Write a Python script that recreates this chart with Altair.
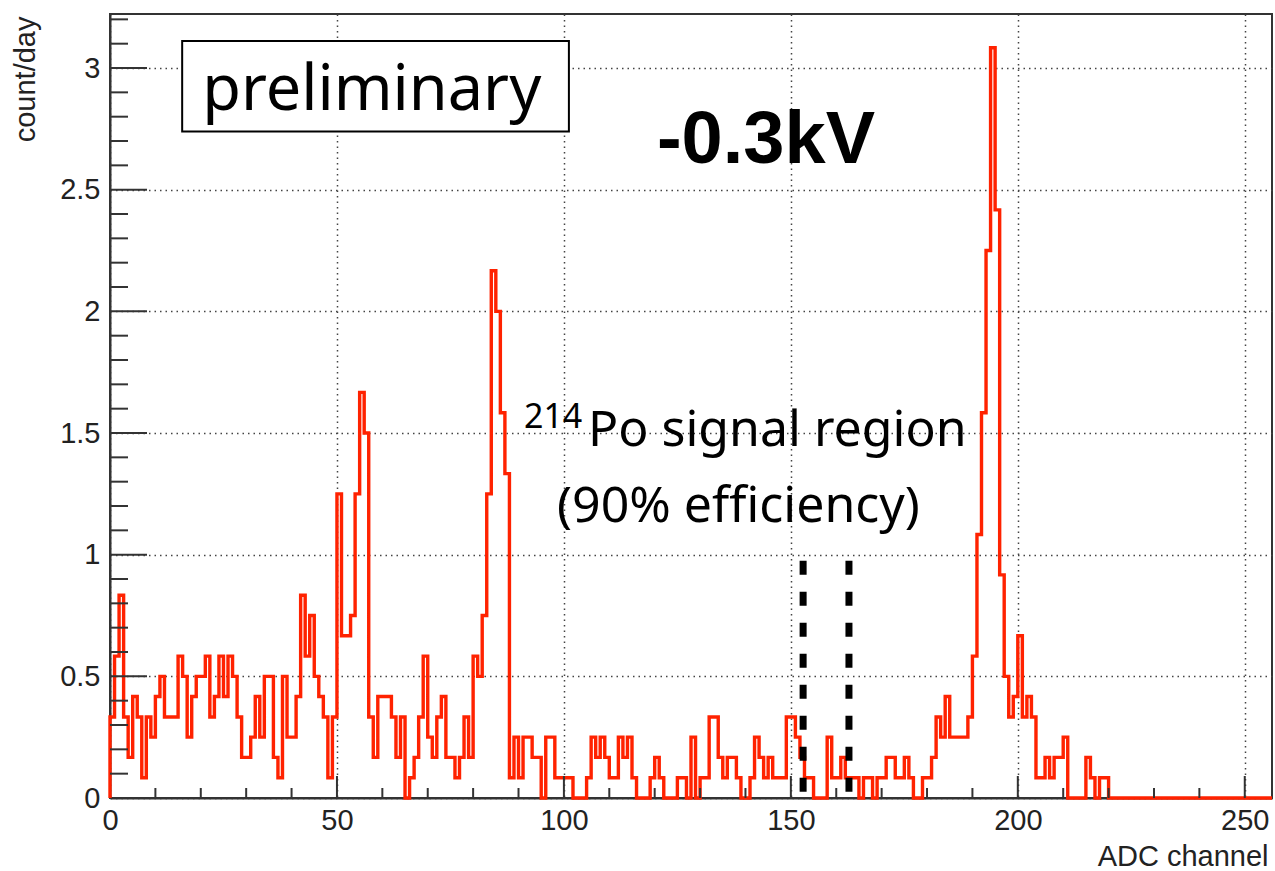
import altair as alt
import pandas as pd

# ---------------- data ----------------
adc_bins = list(range(256))  # lower edge of each 1-channel bin

count_per_day = [
    # 0-31
    0.333, 0.583, 0.833, 0.333, 0.167, 0.417, 0.333, 0.083, 0.333, 0.25, 0.417, 0.5, 0.333, 0.333, 0.333, 0.583,
    0.5, 0.25, 0.417, 0.5, 0.5, 0.583, 0.333, 0.417, 0.583, 0.417, 0.583, 0.5, 0.333, 0.167, 0.167, 0.25,
    # 32-63
    0.417, 0.25, 0.5, 0.5, 0.167, 0.083, 0.5, 0.25, 0.25, 0.417, 0.833, 0.583, 0.75, 0.5, 0.417, 0.333,
    0.083, 0.333, 1.25, 0.667, 0.667, 0.75, 1.25, 1.667, 1.5, 0.333, 0.167, 0.417, 0.417, 0.417, 0.333, 0.167,
    # 64-97
    0.333, 0.0, 0.083, 0.167, 0.333, 0.583, 0.25, 0.167, 0.333, 0.417, 0.167, 0.167, 0.083, 0.167, 0.333, 0.167,
    0.583, 0.5, 0.75, 1.25, 2.167, 2.0, 1.583, 1.333, 0.083, 0.25, 0.083, 0.25, 0.25, 0.167, 0.167, 0.0,
    0.25, 0.25,
    # 98-130
    0.083, 0.083, 0.083, 0.083, 0.0, 0.0, 0.0, 0.083, 0.25, 0.167, 0.25, 0.167, 0.083, 0.083, 0.25, 0.167,
    0.25, 0.083, 0.0, 0.0, 0.0, 0.083, 0.167, 0.083, 0.0, 0.0, 0.0, 0.083, 0.083, 0.0, 0.25, 0.0, 0.083,
    # 131-163
    0.083, 0.333, 0.333, 0.167, 0.083, 0.167, 0.167, 0.083, 0.0, 0.0, 0.083, 0.25, 0.167, 0.083, 0.167, 0.083,
    0.083, 0.083, 0.333, 0.333, 0.25, 0.167, 0.083, 0.083, 0.0, 0.0, 0.0, 0.25, 0.083, 0.083, 0.167, 0.083,
    0.083,
    # 164-197
    0.083, 0.0, 0.083, 0.083, 0.0, 0.083, 0.083, 0.167, 0.167, 0.083, 0.083, 0.167, 0.083, 0.0, 0.0, 0.083,
    0.083, 0.167, 0.333, 0.25, 0.417, 0.25, 0.25, 0.25, 0.25, 0.333, 0.583, 1.083, 1.583, 2.25, 3.083, 2.417,
    0.917, 0.5,
    # 198-219
    0.333, 0.417, 0.667, 0.333, 0.417, 0.333, 0.083, 0.083, 0.167, 0.083, 0.167, 0.167, 0.25, 0.0, 0.0, 0.0,
    0.0, 0.167, 0.083, 0.0, 0.083, 0.083,
    # 220-255
    0.0, 0.0, 0.0, 0.0, 0.0, 0.0, 0.0, 0.0, 0.0, 0.0, 0.0, 0.0, 0.0, 0.0, 0.0, 0.0,
    0.0, 0.0, 0.0, 0.0, 0.0, 0.0, 0.0, 0.0, 0.0, 0.0, 0.0, 0.0, 0.0, 0.0, 0.0, 0.0,
    0.0, 0.0, 0.0, 0.0,
]

x_label_values = [0, 50, 100, 150, 200, 250]
y_label_values = [0, 0.5, 1, 1.5, 2, 2.5, 3]
x_minor_ticks = [10, 20, 30, 40, 60, 70, 80, 90, 110, 120, 130, 140, 160, 170, 180, 190,
                 210, 220, 230, 240]
x_major_ticks = [50, 100, 150, 200, 250]
y_minor_ticks = [0.1, 0.2, 0.3, 0.4, 0.6, 0.7, 0.8, 0.9, 1.1, 1.2, 1.3, 1.4, 1.6, 1.7, 1.8, 1.9,
                 2.1, 2.2, 2.3, 2.4, 2.6, 2.7, 2.8, 2.9, 3.1, 3.2]
y_major_ticks = [0.5, 1.0, 1.5, 2.0, 2.5, 3.0]

signal_region_edges = [152.7, 162.8]
signal_region_top = [0.975, 0.975]
signal_region_bottom = [0.0, 0.0]

# annotation texts (anchor in data units: ADC channel, count/day)
ann_text = ["214", "Po signal region", "(90% efficiency)"]
ann_adc = [91.2, 105.3, 98.5]
ann_rate = [1.521, 1.447, 1.134]
ann_size = [34, 50, 50]

voltage_text = ["-0.3kV"]
voltage_adc = [120.5]
voltage_rate = [2.61]

prelim_text = ["preliminary"]
prelim_adc = [20.3]
prelim_rate = [2.828]
prelim_box = {"adc": [15.9], "adc2": [101.1], "rate": [3.111], "rate2": [2.739]}

# ---------------- chart ----------------
W, H = 1162, 784
FONT = "Liberation Sans"
x_scale = alt.Scale(domain=[0, 256], nice=False, zero=False)
y_scale = alt.Scale(domain=[0, 3.222], nice=False, zero=False)

grid_style = dict(grid=True, gridColor="#444", gridDash=[1.5, 4], gridWidth=1.5)

x_axis = alt.Axis(
    values=x_label_values, ticks=False, labelFlush=False, labelOverlap=False,
    domainColor="#333", domainWidth=2,
    labelFont=FONT, labelFontSize=29, labelColor="#222", labelPadding=8,
    labelBaseline="top",
    title="ADC channel", titleFont=FONT, titleFontSize=29, titleFontWeight="normal",
    titleColor="#222", titleAlign="right", titleBaseline="alphabetic",
    titleX=1158, titleY=67, **grid_style)
y_axis = alt.Axis(
    values=y_label_values, ticks=False, labelFlush=False, labelOverlap=False,
    format="~g", domainColor="#333", domainWidth=2,
    labelFont=FONT, labelFontSize=29, labelColor="#222", labelPadding=10,
    title="count/day", titleFont=FONT, titleFontSize=29, titleFontWeight="normal",
    titleColor="#222", titleAngle=270, titleAlign="right", titleBaseline="alphabetic",
    titleX=-76, titleY=2, **grid_style)

X = lambda: alt.X("adc:Q", scale=x_scale, axis=x_axis, title="ADC channel")
Y = lambda: alt.Y("rate:Q", scale=y_scale, axis=y_axis, title="count/day")

hist_x = [0] + adc_bins + [256, 256]
hist_y = [0.0] + count_per_day + [count_per_day[-1], 0.0]
hist_df = pd.DataFrame({"adc": hist_x, "rate": hist_y, "seq": list(range(len(hist_x)))})

hist = alt.Chart(hist_df).mark_line(
    interpolate="step-after", color="#ff2200", strokeWidth=3.4, strokeJoin="miter"
).encode(x=X(), y=Y(), order="seq:Q")


def xtick_layer(vals, length):
    df = pd.DataFrame({"adc": vals})
    return alt.Chart(df).mark_rule(color="#333", strokeWidth=2).encode(
        x=X(), y=alt.value(H), y2=alt.value(H - length))


def ytick_layer(vals, length):
    df = pd.DataFrame({"rate": vals})
    return alt.Chart(df).mark_rule(color="#333", strokeWidth=2).encode(
        y=Y(), x=alt.value(0), x2=alt.value(length))


ticks = [xtick_layer(x_minor_ticks, 10), xtick_layer(x_major_ticks, 22),
         ytick_layer(y_minor_ticks, 18), ytick_layer(y_major_ticks, 37)]

sig_df = pd.DataFrame({"adc": signal_region_edges, "rate": signal_region_top,
                       "rate2": signal_region_bottom})
signal = alt.Chart(sig_df).mark_rule(color="black", strokeWidth=7, strokeDash=[14, 17]).encode(
    x=X(), y=Y(), y2="rate2:Q")

box = alt.Chart(pd.DataFrame(prelim_box)).mark_rect(
    fill="white", stroke="black", strokeWidth=2).encode(
    x=X(), x2="adc2:Q", y=Y(), y2="rate2:Q")

prelim = alt.Chart(pd.DataFrame({"adc": prelim_adc, "rate": prelim_rate, "label": prelim_text})).mark_text(
    align="left", baseline="alphabetic", font="Noto Sans", fontSize=63, color="black").encode(
    x=X(), y=Y(), text="label:N")

voltage = alt.Chart(pd.DataFrame({"adc": voltage_adc, "rate": voltage_rate, "label": voltage_text})).mark_text(
    align="left", baseline="alphabetic", font=FONT, fontWeight="bold", fontSize=74, color="black").encode(
    x=X(), y=Y(), text="label:N")

ann_layers = []
for t, a, r, s in zip(ann_text, ann_adc, ann_rate, ann_size):
    ann_layers.append(
        alt.Chart(pd.DataFrame({"adc": [a], "rate": [r], "label": [t]})).mark_text(
            align="left", baseline="alphabetic", font="Noto Sans", fontSize=s, color="black").encode(
            x=X(), y=Y(), text="label:N"))

chart = alt.layer(hist, *ticks, signal, box, prelim, voltage, *ann_layers).properties(
    width=W, height=H,
    padding={"left": 110, "top": 14, "right": 3, "bottom": 73},
    autosize=alt.AutoSizeParams(type="none"),
    background="white",
).configure_view(stroke="#333", strokeWidth=2)

chart.save("out.html", embed_options={"renderer": "svg", "actions": False})
